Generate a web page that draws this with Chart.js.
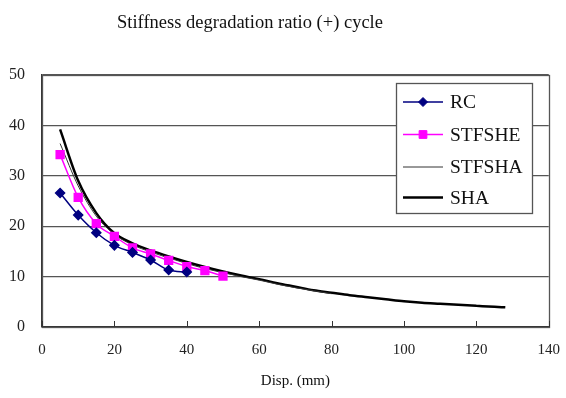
<!DOCTYPE html>
<html><head><meta charset="utf-8">
<script src="https://cdn.jsdelivr.net/npm/chart.js@4/dist/chart.umd.min.js"></script>
<style>
html,body{margin:0;padding:0;background:#fff;}
#wrap{position:relative;width:566px;height:398px;}
#title{position:absolute;left:0;top:12px;width:500px;text-align:center;font-family:"Liberation Serif",serif;font-size:18.5px;color:#111;}
canvas{position:absolute;left:0;top:0;}
</style></head>
<body><div id="wrap"><canvas id="c" width="566" height="398"></canvas><div id="title">Stiffness degradation ratio (+) cycle</div></div>
<script>
const titleText = "Stiffness degradation ratio (+) cycle";
const xTitle = "Disp. (mm)";
const seriesNames = ["RC","STFSHE","STFSHA","SHA"];
const rcX = [5,10,15,20,25,30,35,40];
const rcY = [26.6,22.2,18.7,16.2,14.8,13.3,11.3,10.9];
const stfsheX = [5,10,15,20,25,30,35,40,45,50];
const stfsheY = [34.2,25.7,20.5,18.0,15.7,14.5,13.2,12.0,11.2,10.1];
const stfshaX = [5,10,15,20,25,30,35,40,45,50,55,60,65,70,75,80];
const stfshaY = [36.4,28.0,22.0,18.4,16.3,14.9,13.7,12.6,11.6,10.8,10.0,9.3,8.5,7.8,7.2,6.6];
const shaX = [5,10,15,20,25,30,35,40,45,50,55,60,65,70,75,80,85,90,95,100,105,110,115,120,125,128];
const shaY = [39.2,29.0,22.6,18.6,16.6,15.2,14.0,12.9,11.9,11.0,10.2,9.5,8.7,8.0,7.3,6.8,6.3,5.9,5.5,5.1,4.8,4.6,4.4,4.2,4.0,3.9];
const xTicks = [0,20,40,60,80,100,120,140];
const yTicks = [0,10,20,30,40,50];

const pts = (xs, ys) => xs.map((x,i)=>({x:x,y:ys[i]}));

const frame = {
  id:'frame',
  afterDraw(chart){
    const {ctx, chartArea:a, scales:{x}} = chart;
    ctx.save();
    ctx.strokeStyle='#555'; ctx.lineWidth=1.3;
    ctx.strokeRect(Math.round(a.left)+0.5, Math.round(a.top)+0.5, Math.round(a.right-a.left), Math.round(a.bottom-a.top));
    ctx.strokeStyle='#333'; ctx.lineWidth=1;
    xTicks.forEach(v=>{ const px=Math.round(x.getPixelForValue(v))+0.5; ctx.beginPath(); ctx.moveTo(px,a.bottom); ctx.lineTo(px,a.bottom-6); ctx.stroke(); });
    // legend
    const L = {x:396, y:83, w:136, h:130};
    ctx.fillStyle='#fff'; ctx.fillRect(L.x,L.y,L.w,L.h);
    ctx.strokeStyle='#555'; ctx.lineWidth=1.3; ctx.strokeRect(L.x+0.5,L.y+0.5,L.w,L.h);
    const rows=[102,134.5,167,197.5];
    chart.data.datasets.forEach((ds,i)=>{
      const yy=rows[i];
      ctx.strokeStyle=ds.borderColor; ctx.lineWidth=ds.borderWidth;
      ctx.beginPath(); ctx.moveTo(403,yy); ctx.lineTo(443,yy); ctx.stroke();
      if(ds.pointRadius>0){
        ctx.fillStyle=ds.backgroundColor; ctx.strokeStyle=ds.borderColor; ctx.lineWidth=1;
        Chart.helpers.drawPoint(ctx,{pointStyle:ds.pointStyle,radius:ds.pointRadius,borderWidth:1},423,yy);
      }
      ctx.fillStyle='#111'; ctx.font='19.5px "Liberation Serif"'; ctx.textBaseline='middle'; ctx.textAlign='left';
      ctx.fillText(ds.label,450,yy+1);
    });
    ctx.restore();
  }
};

new Chart(document.getElementById('c'),{
  type:'scatter',
  data:{datasets:[
    {label:seriesNames[0],data:pts(rcX,rcY),showLine:true,borderColor:'#000080',backgroundColor:'#000080',borderWidth:1.5,pointStyle:'rectRot',pointRadius:4.5,cubicInterpolationMode:'monotone'},
    {label:seriesNames[1],data:pts(stfsheX,stfsheY),showLine:true,borderColor:'#ff00ff',backgroundColor:'#ff00ff',borderWidth:1.5,pointStyle:'rect',pointRadius:5.5,cubicInterpolationMode:'monotone'},
    {label:seriesNames[2],data:pts(stfshaX,stfshaY),showLine:true,borderColor:'#333',backgroundColor:'#333',borderWidth:1,pointRadius:0,cubicInterpolationMode:'monotone'},
    {label:seriesNames[3],data:pts(shaX,shaY),showLine:true,borderColor:'#000',backgroundColor:'#000',borderWidth:2.5,pointRadius:0,cubicInterpolationMode:'monotone'}
  ]},
  options:{
    responsive:false,animation:false,
    layout:{padding:{left:0,right:16,top:75,bottom:4}},
    plugins:{legend:{display:false},title:{display:false},tooltip:{enabled:false}},
    scales:{
      x:{type:'linear',min:0,max:140,
        afterBuildTicks:s=>{s.ticks=xTicks.map(v=>({value:v}));},
        afterFit:s=>{s.height=67;},
        grid:{display:false},border:{display:true,color:'#333',width:1.3},
        ticks:{color:'#222',font:{family:'"Liberation Serif"',size:15},padding:6},
        title:{display:true,text:xTitle,color:'#111',font:{family:'"Liberation Serif"',size:15},padding:{top:9}}
      },
      y:{type:'linear',min:0,max:50,
        afterBuildTicks:s=>{s.ticks=yTicks.map(v=>({value:v}));},
        afterFit:s=>{s.width=42;},
        grid:{color:'#555',lineWidth:1.3,drawTicks:false},border:{display:true,color:'#333',width:1.3},
        ticks:{color:'#222',font:{family:'"Liberation Serif"',size:16},padding:17}
      }
    }
  },
  plugins:[frame]
});
</script></body></html>
